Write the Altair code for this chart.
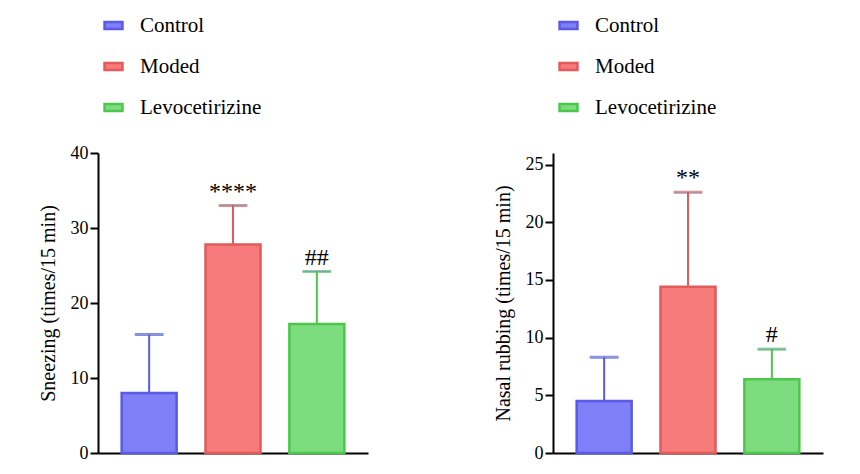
import altair as alt
import pandas as pd

groups = ["Control", "Moded", "Levocetirizine"]
fills = ["#7f7ff7", "#f77b7b", "#7ddc7d"]
strokes = ["#5a5ae6", "#e25a5a", "#4cc74c"]

sneeze_mean = [8.0, 27.8, 17.2]
sneeze_top = [15.8, 33.0, 24.2]
sneeze_mark = ["", "****", "##"]

rub_mean = [4.5, 14.4, 6.4]
rub_top = [8.3, 22.6, 9.0]
rub_mark = ["", "**", "#"]

FONT = "Liberation Serif"


def legend():
    return alt.Legend(title=None, orient="none", legendX=5, legendY=-138,
                      labelFont=FONT, labelFontSize=21, labelColor="black",
                      symbolType="M-1.3,-0.5H1.3V0.5H-1.3Z", symbolSize=190,
                      symbolStrokeWidth=2.5, symbolOpacity=1, rowPadding=19, labelOffset=16)


def panel(mean, top, marks, title, ymax, step):
    df = pd.DataFrame({"group": groups, "mean": mean, "top": top, "mark": marks})
    x = alt.X("group:N", sort=groups, title=None,
              scale=alt.Scale(paddingInner=0.38, paddingOuter=0.3),
              axis=alt.Axis(labels=False, ticks=False, domainColor="black", domainWidth=2))
    color = alt.Color("group:N", sort=groups,
                      scale=alt.Scale(domain=groups, range=fills), legend=legend())
    stroke = alt.Stroke("group:N", sort=groups,
                        scale=alt.Scale(domain=groups, range=strokes), legend=legend())
    base = alt.Chart(df)
    err = base.mark_rule(strokeWidth=2).encode(x=x, y="mean:Q", y2="top:Q", stroke=stroke)
    cap = base.mark_tick(thickness=2, size=28).encode(x=x, y="top:Q", stroke=stroke)
    bars = base.mark_bar(size=55, strokeWidth=2.5, fillOpacity=1).encode(
        x=x,
        y=alt.Y("mean:Q", title=title, scale=alt.Scale(domain=[0, ymax]),
                axis=alt.Axis(values=list(range(0, ymax + 1, step)), grid=False,
                              domainColor="black", domainWidth=2, tickColor="black",
                              tickWidth=2, tickSize=8, labelFont=FONT, labelFontSize=18,
                              labelColor="black", titleFont=FONT, titleFontSize=20,
                              titleFontWeight="normal", titleColor="black", titlePadding=12)),
        color=color, stroke=stroke)
    txt = base.mark_text(dy=-14, font=FONT, fontSize=24, color="black").encode(
        x=x, y="top:Q", text="mark:N")
    return alt.layer(err, cap, bars, txt).properties(
        width=270, height=300, view=alt.ViewBackground(strokeWidth=0, stroke="white"))


left = panel(sneeze_mean, sneeze_top, sneeze_mark, "Sneezing (times/15 min)", 40, 10)
right = panel(rub_mean, rub_top, rub_mark, "Nasal rubbing (times/15 min)", 25, 5)

chart = (
    alt.hconcat(left, right, spacing=125)
    .resolve_scale(color="independent", stroke="independent")
    .properties(padding={"top": 7, "left": 30, "right": 5, "bottom": 2})
    .configure_view(strokeWidth=0)
    .configure(background="white")
)
chart.save("out.html", embed_options={"renderer": "svg", "actions": False})
